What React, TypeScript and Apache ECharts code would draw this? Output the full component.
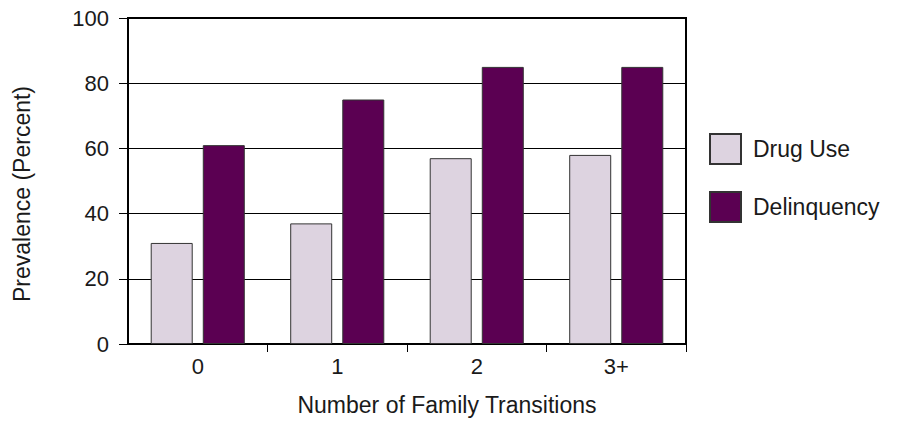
import React, { useEffect, useRef } from "react";
import * as echarts from "echarts";

const categories = ["0", "1", "2", "3+"];
const drugUse = [31, 37, 57, 58];
const delinquency = [61, 75, 85, 85];
const yTicks = { min: 0, max: 100, interval: 20 };

export default function App() {
  const ref = useRef<HTMLDivElement>(null);
  useEffect(() => {
    if (!ref.current) return;
    const chart = echarts.init(ref.current, null, { renderer: "svg" });
    const font = "Liberation Sans, Arial, sans-serif";
    const txt = "#1a1a1a";
    chart.setOption({
      animation: false,
      backgroundColor: "#fff",
      textStyle: { fontFamily: font },
      grid: {
        left: 128,
        right: 212,
        top: 18,
        bottom: 76,
        show: true,
        borderColor: "#000",
        borderWidth: 2,
        containLabel: false,
      },
      legend: {
        orient: "vertical",
        left: 704,
        top: 128,
        padding: 5,
        itemWidth: 31,
        itemHeight: 30,
        itemGap: 26,
        icon: "rect",
        textStyle: { fontSize: 23, color: txt, fontFamily: font, padding: [0, 0, 0, 7] },
        data: ["Drug Use", "Delinquency"],
      },
      xAxis: {
        type: "category",
        data: categories,
        name: "Number of Family Transitions",
        nameLocation: "middle",
        nameGap: 49,
        nameTextStyle: { fontSize: 23, color: txt, fontFamily: font, padding: [0, 0, 0, 80] },
        axisLine: { show: true, lineStyle: { color: "#000", width: 2 } },
        axisTick: {
          show: true,
          length: 8,
          lineStyle: { color: "#000", width: 1 },
          interval: (idx: number) => idx > 0,
        },
        axisLabel: { fontSize: 22, color: txt, margin: 11, fontFamily: font },
      },
      yAxis: {
        type: "value",
        min: yTicks.min,
        max: yTicks.max,
        interval: yTicks.interval,
        name: "Prevalence (Percent)",
        nameLocation: "middle",
        nameGap: 95,
        nameTextStyle: { fontSize: 23, color: txt, fontFamily: font, padding: [0, 26, 0, 0] },
        axisLine: { show: true, lineStyle: { color: "#000", width: 2 } },
        axisTick: { show: true, length: 9, lineStyle: { color: "#000", width: 1 } },
        axisLabel: { fontSize: 22, color: txt, margin: 19, fontFamily: font },
        splitLine: { show: true, lineStyle: { color: "#000", width: 1 } },
      },
      series: [
        {
          name: "Drug Use",
          type: "bar",
          data: drugUse,
          barWidth: 42,
          barGap: "24%",
          itemStyle: { color: "#DDD3E0", borderColor: "#333", borderWidth: 1 },
        },
        {
          name: "Delinquency",
          type: "bar",
          data: delinquency,
          barWidth: 42,
          itemStyle: { color: "#5B0052", borderColor: "#333", borderWidth: 1 },
        },
      ],
    });
    return () => chart.dispose();
  }, []);
  return <div ref={ref} style={{ width: 898, height: 421, position: "absolute", left: 0, top: 0 }} />;
}
